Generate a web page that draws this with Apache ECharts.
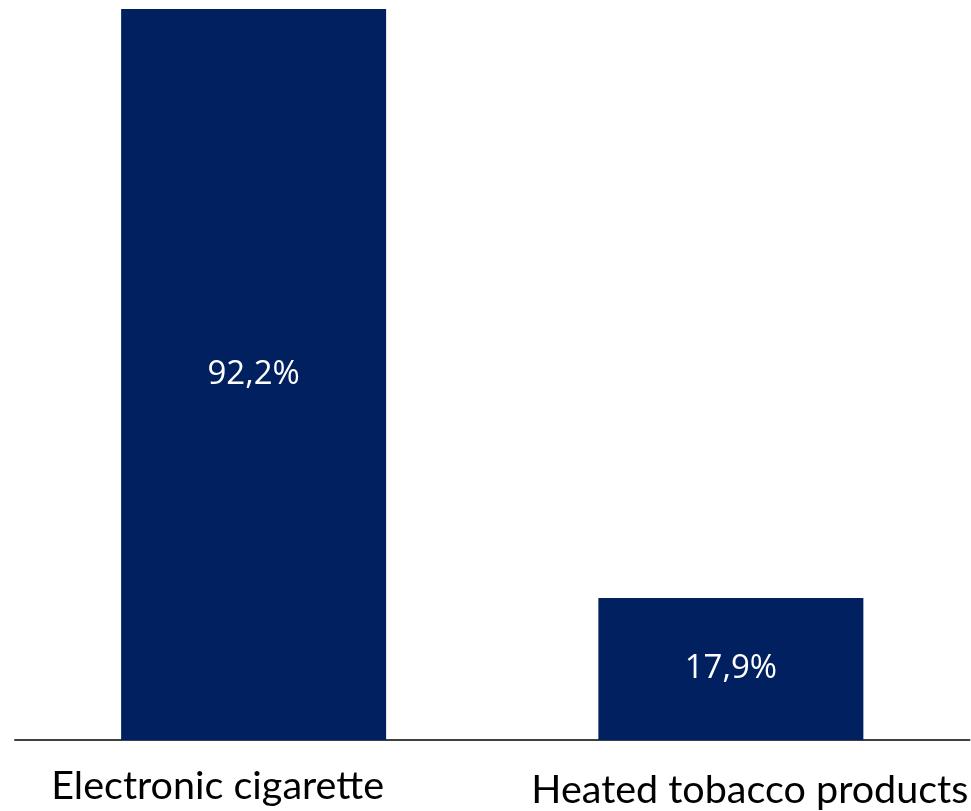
<!DOCTYPE html>
<html>
<head>
<meta charset="utf-8">
<script src="https://cdn.jsdelivr.net/npm/echarts@6/dist/echarts.min.js"></script>
<style>
html,body{margin:0;padding:0;background:#fff;}
#chart{width:971px;height:811px;}
</style>
</head>
<body>
<div id="chart"></div>
<script>
const categories = ['Electronic cigarette', 'Heated tobacco products'];
const values = [92.2, 17.9];
const labelShift = [-36, 19];
const labelDrop = [0, 4];

const chart = echarts.init(document.getElementById('chart'));
chart.setOption({
  animation: false,
  grid: { left: 15, right: 0, top: 9, bottom: 71, containLabel: false },
  xAxis: {
    type: 'category',
    data: categories.map((c, i) => ({
      value: c,
      textStyle: {
        padding: labelShift[i] < 0
          ? [labelDrop[i], -2 * labelShift[i], 0, 0]
          : [labelDrop[i], 0, 0, 2 * labelShift[i]]
      }
    })),
    axisLine: { show: true, lineStyle: { color: '#404040', width: 2 } },
    axisTick: { show: false },
    axisLabel: {
      interval: 0,
      color: '#000',
      fontFamily: 'Lato, "Open Sans", sans-serif',
      fontSize: 39.5,
      margin: 26
    }
  },
  yAxis: {
    type: 'value',
    min: 0,
    max: 92.2,
    show: false,
    splitLine: { show: false }
  },
  series: [{
    type: 'bar',
    data: values,
    barWidth: 265,
    itemStyle: { color: '#002060' },
    label: {
      show: true,
      position: 'inside',
      color: '#fff',
      fontFamily: '"Open Sans", sans-serif',
      fontSize: 33,
      formatter: p => p.value.toFixed(1).replace('.', ',') + '%'
    }
  }]
});
</script>
</body>
</html>
